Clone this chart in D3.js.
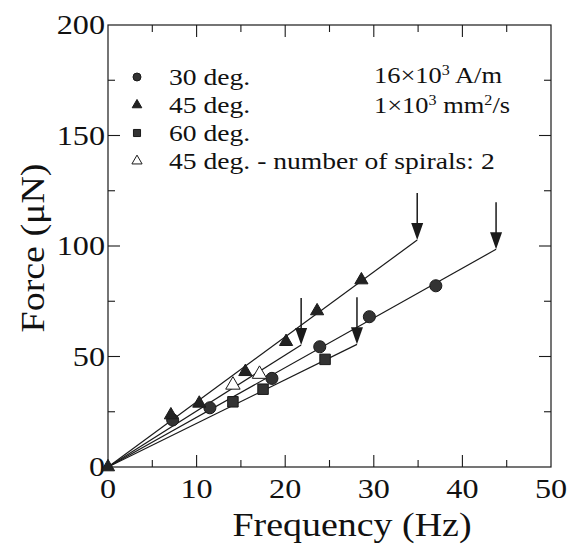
<!DOCTYPE html>
<html>
<head>
<meta charset="utf-8">
<script src="https://cdn.jsdelivr.net/npm/d3@7"></script>
</head>
<body style="margin:0">
<svg id="fig" width="567" height="548"></svg>
<script>
// measured points (frequency Hz, force uN)
const deg30 = [[7.3, 21.3], [11.5, 26.8], [18.5, 40.1], [23.9, 54.4], [29.5, 68], [37.0, 82]];
const deg45 = [[0, 0], [7.1, 23.5], [10.3, 28.8], [15.5, 43.1], [20.1, 56.7], [23.6, 70.6], [28.6, 84.6]];
const deg60 = [[14.1, 29.5], [17.5, 35.2], [24.5, 48.7]];
const deg45spiral2 = [[14.1, 37.1], [17.1, 42.0]];

// fitted lines from origin, ending where the arrow marks the limit
const lineEnds = [[34.9, 102.7], [43.8, 98.5], [21.8, 55.2], [28.1, 55.5]];

const xTicks = [0, 10, 20, 30, 40, 50];
const yTicks = [0, 50, 100, 150, 200];

const legendLabels = ["30 deg.", "45 deg.", "60 deg.", "45 deg. - number of spirals: 2"];

const svg = d3.select("#fig");
const x = d3.scaleLinear().domain([0, 50]).range([108, 551]);
const y = d3.scaleLinear().domain([0, 200]).range([467, 25]);
const ink = "#1a1a1a";
const stretch = 1.15; // the scanned lettering is a bit wider than plain Times

// every label goes through here: serif face, slightly widened glyphs
function label(parent, size, px, py, rot) {
  return parent.append("text")
      .attr("transform", `translate(${px},${py})${rot ? " rotate(" + rot + ")" : ""} scale(${stretch},1)`)
      .style("font-family", "'Liberation Serif', 'Times New Roman', Times")
      .style("font-size", size + "px")
      .attr("fill", "#111");
}

// frame with inward ticks on all four sides
const g = svg.append("g");
g.append("rect")
    .attr("x", x(0)).attr("y", y(200))
    .attr("width", x(50) - x(0)).attr("height", y(0) - y(200))
    .attr("fill", "none").attr("stroke", ink).attr("stroke-width", 1.2);

const xMinor = d3.range(5, 50, 10);
const yMinor = d3.range(25, 200, 50);
function tickLines(vals, len) {
  vals.forEach(v => {
    g.append("line").attr("x1", x(v)).attr("x2", x(v)).attr("y1", y(0)).attr("y2", y(0) - len);
    g.append("line").attr("x1", x(v)).attr("x2", x(v)).attr("y1", y(200)).attr("y2", y(200) + len);
  });
}
function tickLinesY(vals, len) {
  vals.forEach(v => {
    g.append("line").attr("x1", x(0)).attr("x2", x(0) + len).attr("y1", y(v)).attr("y2", y(v));
    g.append("line").attr("x1", x(50)).attr("x2", x(50) - len).attr("y1", y(v)).attr("y2", y(v));
  });
}
tickLines(xTicks.slice(1, -1), 12);
tickLines(xMinor, 7);
tickLinesY(yTicks.slice(1, -1), 12);
tickLinesY(yMinor, 7);
g.selectAll("line").attr("stroke", ink).attr("stroke-width", 1.1);

// tick labels
xTicks.forEach(d => {
  label(svg, 28, x(d), 498).attr("text-anchor", "middle").text(d);
});
yTicks.forEach(d => {
  label(svg, 28, x(0) - 3, y(d) + 9).attr("text-anchor", "end").text(d);
});

// axis titles
label(svg, 33, 352, 536).attr("text-anchor", "middle").text("Frequency (Hz)");
label(svg, 33, 44, 248, -90).attr("text-anchor", "middle").text("Force (\u03bcN)");

// fit lines
svg.selectAll("line.fit").data(lineEnds).join("line")
    .attr("class", "fit")
    .attr("x1", x(0)).attr("y1", y(0))
    .attr("x2", d => x(d[0])).attr("y2", d => y(d[1]))
    .attr("stroke", ink).attr("stroke-width", 1.2);

// arrows marking the end of each line
const arrows = svg.selectAll("g.arrow").data(lineEnds).join("g")
    .attr("class", "arrow")
    .attr("transform", d => `translate(${x(d[0])},${y(d[1])})`);
arrows.append("line")
    .attr("x1", 0).attr("x2", 0).attr("y1", -47).attr("y2", -8)
    .attr("stroke", ink).attr("stroke-width", 1.5);
arrows.append("path")
    .attr("d", "M-6,-17L6,-17L0,0Z")
    .attr("fill", ink);

// markers
const sym = (type, size) => d3.symbol().type(type).size(size)();
function drawPoints(data, type, size, fill) {
  svg.append("g").selectAll("path").data(data).join("path")
      .attr("transform", d => `translate(${x(d[0])},${y(d[1])})`)
      .attr("d", sym(type, size))
      .attr("fill", fill)
      .attr("stroke", ink).attr("stroke-width", 1);
}
drawPoints(deg60, d3.symbolSquare, 110, "#333");
drawPoints(deg30, d3.symbolCircle, 115, "#333");
drawPoints(deg45, d3.symbolTriangle, 75, "#222");
drawPoints(deg45spiral2, d3.symbolTriangle, 90, "#fff");

// legend
const legendSyms = [
  [d3.symbolCircle, 50, "#333"],
  [d3.symbolTriangle, 40, "#222"],
  [d3.symbolSquare, 50, "#333"],
  [d3.symbolTriangle, 45, "#fff"]
];
legendLabels.forEach((d, i) => {
  const row = svg.append("g").attr("transform", `translate(137,${77 + i * 28})`);
  row.append("path")
      .attr("d", sym(legendSyms[i][0], legendSyms[i][1]))
      .attr("fill", legendSyms[i][2])
      .attr("stroke", ink).attr("stroke-width", 1);
  label(row, 24, 32, 8).text(d);
});

// conditions (superscripts kept low so the two lines don't touch)
const t1 = label(svg, 23, 374, 83);
t1.append("tspan").text("16\u00d710");
t1.append("tspan").attr("dy", -8).style("font-size", "14px").text("3");
t1.append("tspan").attr("dy", 8).text(" A/m");
const t2 = label(svg, 23, 374, 113);
t2.append("tspan").text("1\u00d710");
t2.append("tspan").attr("dy", -8).style("font-size", "14px").text("3");
t2.append("tspan").attr("dy", 8).text(" mm");
t2.append("tspan").attr("dy", -8).style("font-size", "14px").text("2");
t2.append("tspan").attr("dy", 8).text("/s");
</script>
</body>
</html>
